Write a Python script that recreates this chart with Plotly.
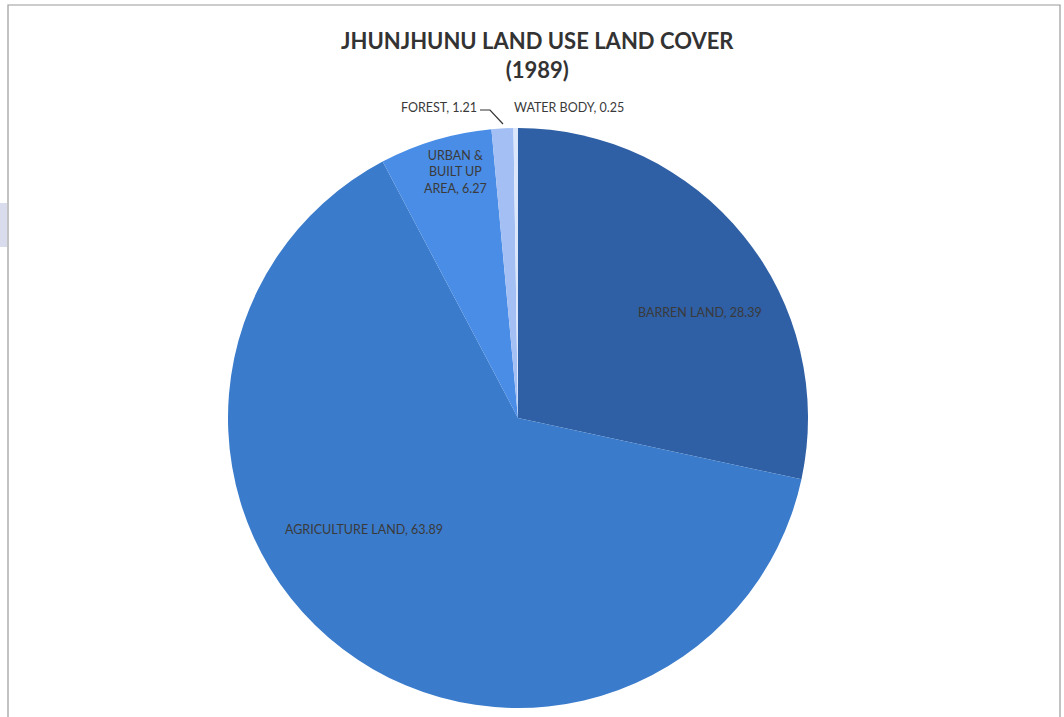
import plotly.graph_objects as go

# Land use / land cover shares (%) for Jhunjhunu, 1989
categories = ["BARREN LAND", "AGRICULTURE LAND", "URBAN & BUILT UP AREA", "FOREST", "WATER BODY"]
shares = [28.39, 63.89, 6.27, 1.21, 0.25]
slice_colors = ["#2F5FA4", "#3A7BCB", "#4A8DE6", "#A3BFF3", "#DCE6FA"]

W, H = 1064, 717


def px(x):
    return x / W


def py(y):
    return 1 - y / H


fig = go.Figure(
    go.Pie(
        labels=categories,
        values=shares,
        sort=False,
        direction="clockwise",
        rotation=0,
        marker=dict(colors=slice_colors, line=dict(width=0)),
        textinfo="none",
        hoverinfo="label+value",
        showlegend=False,
        domain=dict(x=[px(228), px(808)], y=[py(709), py(127)]),
    )
)

label_font = dict(family="Lato, 'Open Sans', sans-serif", size=12.5, color="#3a3a3a")

# Data labels: "<category>, <value>"
label_text = [
    f"{categories[0]}, {shares[0]}",
    f"{categories[1]}, {shares[1]}",
    f"URBAN &<br>BUILT UP<br>AREA, {shares[2]}",
    f"{categories[3]}, {shares[3]}",
    f"{categories[4]}, {shares[4]}",
]
label_pos = [
    (700, 312, "center", "middle"),
    (364, 529, "center", "middle"),
    (455, 172, "center", "middle"),
    (479, 107, "right", "middle"),
    (512, 107, "left", "middle"),
]

annotations = []
for txt, (x, y, xa, ya) in zip(label_text, label_pos):
    annotations.append(
        dict(
            text=txt, x=px(x), y=py(y), xref="paper", yref="paper",
            xanchor=xa, yanchor=ya, showarrow=False, font=label_font,
            align="center",
        )
    )

# Chart title
annotations.append(
    dict(
        text="<b>JHUNJHUNU LAND USE LAND COVER<br>(1989)</b>",
        x=px(537), y=py(55), xref="paper", yref="paper",
        xanchor="center", yanchor="middle", showarrow=False, align="center",
        font=dict(family="Lato, 'Open Sans', sans-serif", size=22, color="#333333"),
    )
)

shapes = [
    # chart area border
    dict(type="rect", xref="paper", yref="paper",
         x0=px(8), x1=px(1060), y0=-0.02, y1=py(5),
         line=dict(color="#9a9a9a", width=1.2), fillcolor="rgba(0,0,0,0)"),
    # leader line for the forest label
    dict(type="path", xref="paper", yref="paper",
         path=f"M {px(480)},{py(110)} L {px(490)},{py(110)} L {px(503)},{py(124)}",
         line=dict(color="#333333", width=1.2)),
    # faint smudge at the left edge
    dict(type="rect", xref="paper", yref="paper",
         x0=0, x1=px(7), y0=py(247), y1=py(203),
         line=dict(width=0), fillcolor="rgba(200,205,230,0.7)"),
]

fig.update_layout(
    width=W,
    height=H,
    margin=dict(l=0, r=0, t=0, b=0),
    paper_bgcolor="#ffffff",
    plot_bgcolor="#ffffff",
    annotations=annotations,
    shapes=shapes,
)

fig.write_html("out.html")
